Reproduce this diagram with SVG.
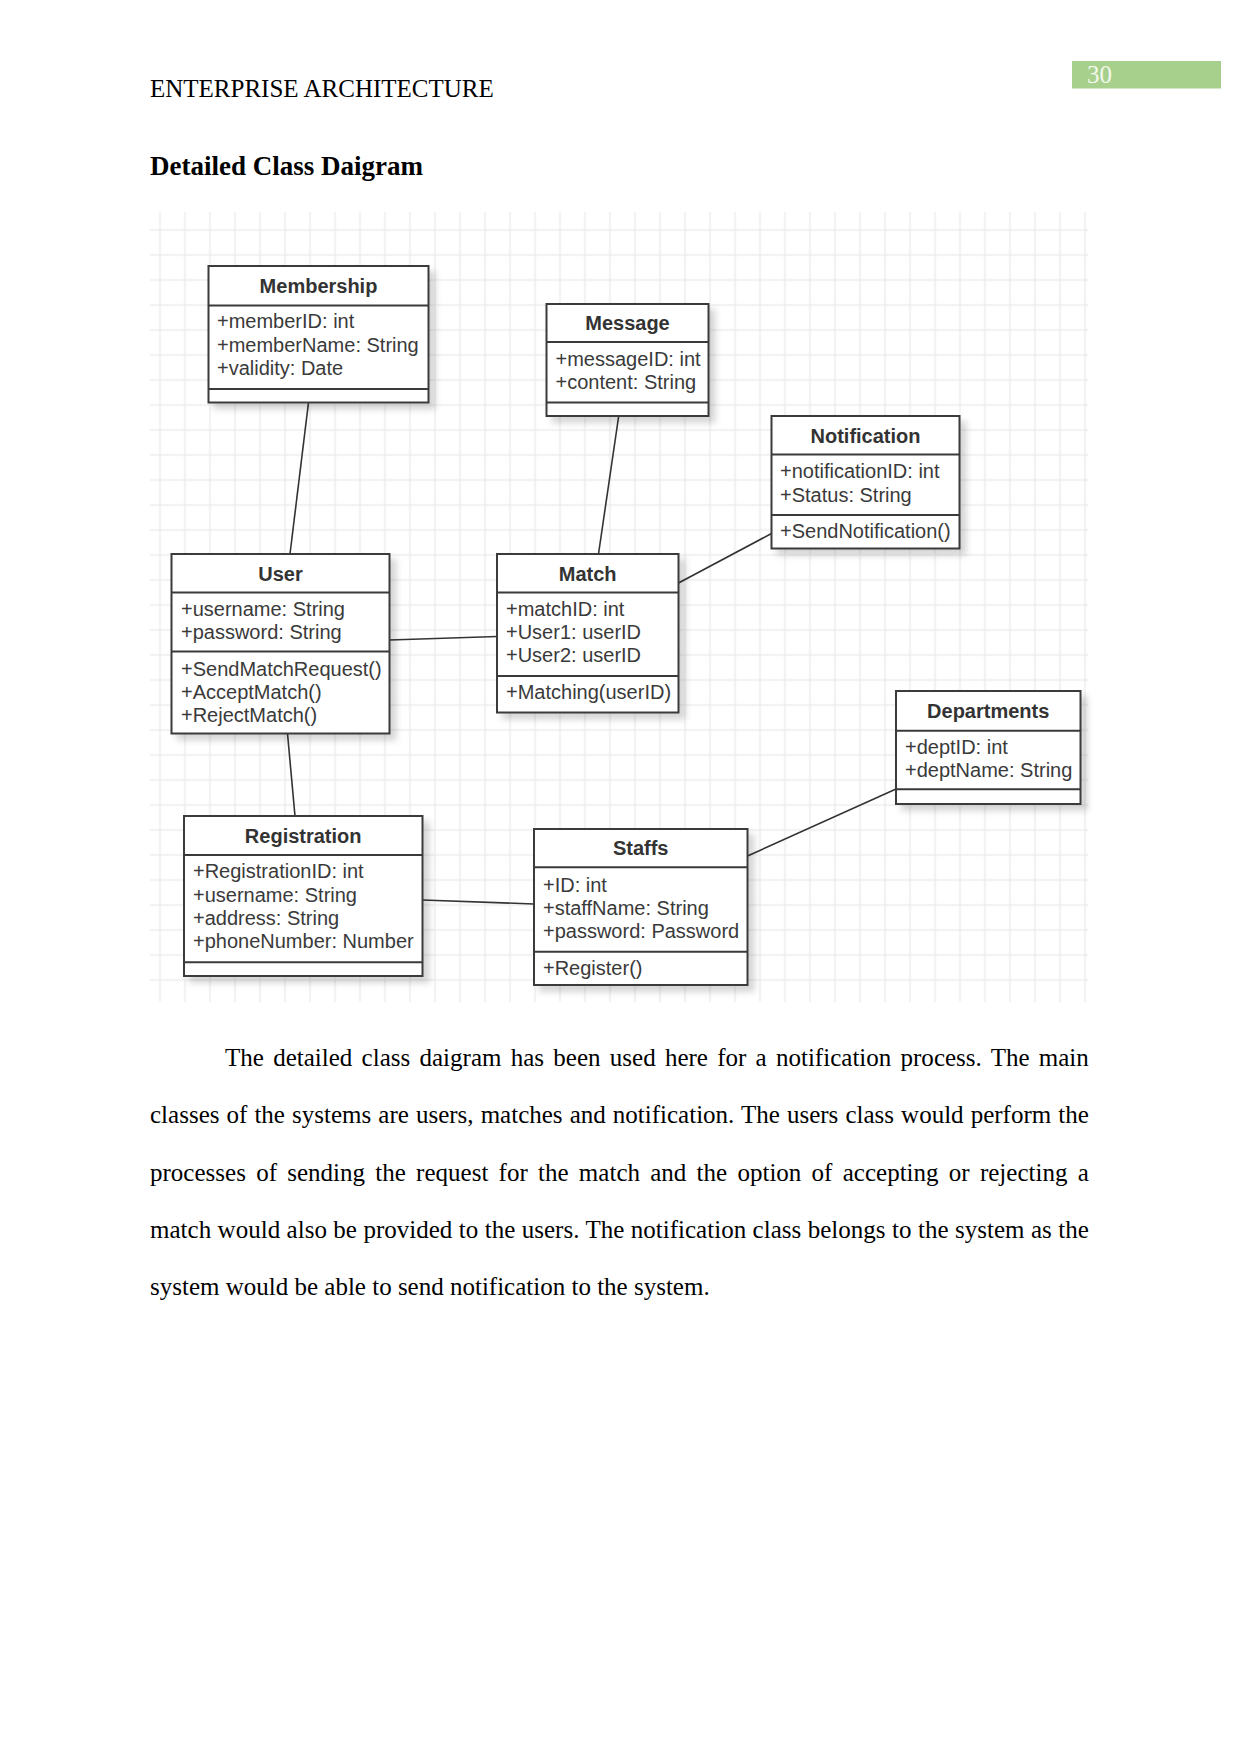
<svg xmlns="http://www.w3.org/2000/svg" width="1241" height="1754" viewBox="0 0 1241 1754">
<defs>
<style>
.page{font-family:"Liberation Serif","Times New Roman",serif;fill:#000;font-size:25px}
.box{fill:#fff;stroke:#3a3a3a;stroke-width:2}
.div{stroke:#3a3a3a;stroke-width:2}
.ttl{font-family:"Liberation Sans",Arial,sans-serif;font-weight:bold;font-size:20px;fill:#333;text-anchor:middle}
.att{font-family:"Liberation Sans",Arial,sans-serif;font-size:20px;fill:#3a3a3a}
.con{stroke:#333;stroke-width:1.6;fill:none}
</style>
<pattern id="grid" patternUnits="userSpaceOnUse" x="22.5" y="17.5" width="25" height="25">
<path d="M12.5 0V25M0 12.5H25" stroke="#ebebeb" stroke-width="1.5" fill="none"/>
</pattern>
<filter id="sh" x="-10%" y="-10%" width="130%" height="130%">
<feDropShadow dx="6" dy="6" stdDeviation="3" flood-color="#000" flood-opacity="0.16"/>
</filter>
</defs>
<rect width="1241" height="1754" fill="#fff"/>
<text class="page" x="150" y="97">ENTERPRISE ARCHITECTURE</text>
<rect x="1072" y="61" width="149" height="27.5" fill="#a8d08d"/>
<text class="page" x="1087" y="83" fill="#f4f8ec" style="fill:#f4f8ec">30</text>
<text class="page" x="150" y="175" font-weight="bold" font-size="27" style="font-size:27px">Detailed Class Daigram</text>
<rect x="150" y="212" width="938" height="790" fill="url(#grid)"/>
<g id="connectors">
<line class="con" x1="308.5" y1="402.5" x2="290" y2="554"/>
<line class="con" x1="618.7" y1="416" x2="598.5" y2="554"/>
<line class="con" x1="771.5" y1="533.5" x2="678.5" y2="583"/>
<line class="con" x1="389.5" y1="640" x2="497" y2="636.5"/>
<line class="con" x1="287.5" y1="733.5" x2="295" y2="816"/>
<line class="con" x1="422.5" y1="900" x2="534" y2="904"/>
<line class="con" x1="747.5" y1="856" x2="896" y2="789"/>
</g>
<g id="membership">
<rect class="box" x="208.5" y="266" width="220" height="136.5" filter="url(#sh)"/>
<line class="div" x1="208.5" y1="305.5" x2="428.5" y2="305.5"/>
<line class="div" x1="208.5" y1="389" x2="428.5" y2="389"/>
<text class="ttl" x="318.5" y="293">Membership</text>
<text class="att" x="217" y="328">+memberID: int</text>
<text class="att" x="217" y="351.5">+memberName: String</text>
<text class="att" x="217" y="375">+validity: Date</text>
</g>
<g id="message">
<rect class="box" x="546.5" y="304" width="162" height="112" filter="url(#sh)"/>
<line class="div" x1="546.5" y1="342" x2="708.5" y2="342"/>
<line class="div" x1="546.5" y1="402.5" x2="708.5" y2="402.5"/>
<text class="ttl" x="627.5" y="330">Message</text>
<text class="att" x="555.5" y="366">+messageID: int</text>
<text class="att" x="555.5" y="389">+content: String</text>
</g>
<g id="notification">
<rect class="box" x="771.5" y="416" width="188" height="132.5" filter="url(#sh)"/>
<line class="div" x1="771.5" y1="454.5" x2="959.5" y2="454.5"/>
<line class="div" x1="771.5" y1="515" x2="959.5" y2="515"/>
<text class="ttl" x="865.5" y="442.5">Notification</text>
<text class="att" x="780" y="478">+notificationID: int</text>
<text class="att" x="780" y="501.5">+Status: String</text>
<text class="att" x="780" y="538">+SendNotification()</text>
</g>
<g id="user">
<rect class="box" x="171.5" y="554" width="218" height="179.5" filter="url(#sh)"/>
<line class="div" x1="171.5" y1="592.5" x2="389.5" y2="592.5"/>
<line class="div" x1="171.5" y1="651.5" x2="389.5" y2="651.5"/>
<text class="ttl" x="280.5" y="580.5">User</text>
<text class="att" x="181" y="616">+username: String</text>
<text class="att" x="181" y="639.3">+password: String</text>
<text class="att" x="181" y="676">+SendMatchRequest()</text>
<text class="att" x="181" y="698.5">+AcceptMatch()</text>
<text class="att" x="181" y="721.7">+RejectMatch()</text>
</g>
<g id="match">
<rect class="box" x="497" y="554" width="181.5" height="158.5" filter="url(#sh)"/>
<line class="div" x1="497" y1="592.5" x2="678.5" y2="592.5"/>
<line class="div" x1="497" y1="676" x2="678.5" y2="676"/>
<text class="ttl" x="587.7" y="580.5">Match</text>
<text class="att" x="506" y="616">+matchID: int</text>
<text class="att" x="506" y="639.3">+User1: userID</text>
<text class="att" x="506" y="662">+User2: userID</text>
<text class="att" x="506" y="698.7">+Matching(userID)</text>
</g>
<g id="departments">
<rect class="box" x="896" y="691" width="184.5" height="113" filter="url(#sh)"/>
<line class="div" x1="896" y1="730.7" x2="1080.5" y2="730.7"/>
<line class="div" x1="896" y1="789.3" x2="1080.5" y2="789.3"/>
<text class="ttl" x="988.2" y="718">Departments</text>
<text class="att" x="905" y="754">+deptID: int</text>
<text class="att" x="905" y="776.7">+deptName: String</text>
</g>
<g id="registration">
<rect class="box" x="184" y="816" width="238.5" height="160" filter="url(#sh)"/>
<line class="div" x1="184" y1="855" x2="422.5" y2="855"/>
<line class="div" x1="184" y1="962.3" x2="422.5" y2="962.3"/>
<text class="ttl" x="303.2" y="842.5">Registration</text>
<text class="att" x="193" y="878.3">+RegistrationID: int</text>
<text class="att" x="193" y="901.7">+username: String</text>
<text class="att" x="193" y="925">+address: String</text>
<text class="att" x="193" y="948.3">+phoneNumber: Number</text>
</g>
<g id="staffs">
<rect class="box" x="534" y="829" width="213.5" height="156" filter="url(#sh)"/>
<line class="div" x1="534" y1="867.3" x2="747.5" y2="867.3"/>
<line class="div" x1="534" y1="951.7" x2="747.5" y2="951.7"/>
<text class="ttl" x="640.7" y="855">Staffs</text>
<text class="att" x="543" y="891.7">+ID: int</text>
<text class="att" x="543" y="915">+staffName: String</text>
<text class="att" x="543" y="938.3">+password: Password</text>
<text class="att" x="543" y="975">+Register()</text>
</g>
<text class="page" x="225" y="1066" word-spacing="3" textLength="863.8" lengthAdjust="spacing">The detailed class daigram has been used here for a notification process. The main</text>
<text class="page" x="150" y="1123.3" word-spacing="0.8" textLength="938.8" lengthAdjust="spacing">classes of the systems are users, matches and notification. The users class would perform the</text>
<text class="page" x="150" y="1180.6" word-spacing="4" textLength="938.8" lengthAdjust="spacing">processes of sending the request for the match and the option of accepting or rejecting a</text>
<text class="page" x="150" y="1237.9" word-spacing="0.2" textLength="938.8" lengthAdjust="spacing">match would also be provided to the users. The notification class belongs to the system as the</text>
<text class="page" x="150" y="1295.2">system would be able to send notification to the system.</text>
</svg>
